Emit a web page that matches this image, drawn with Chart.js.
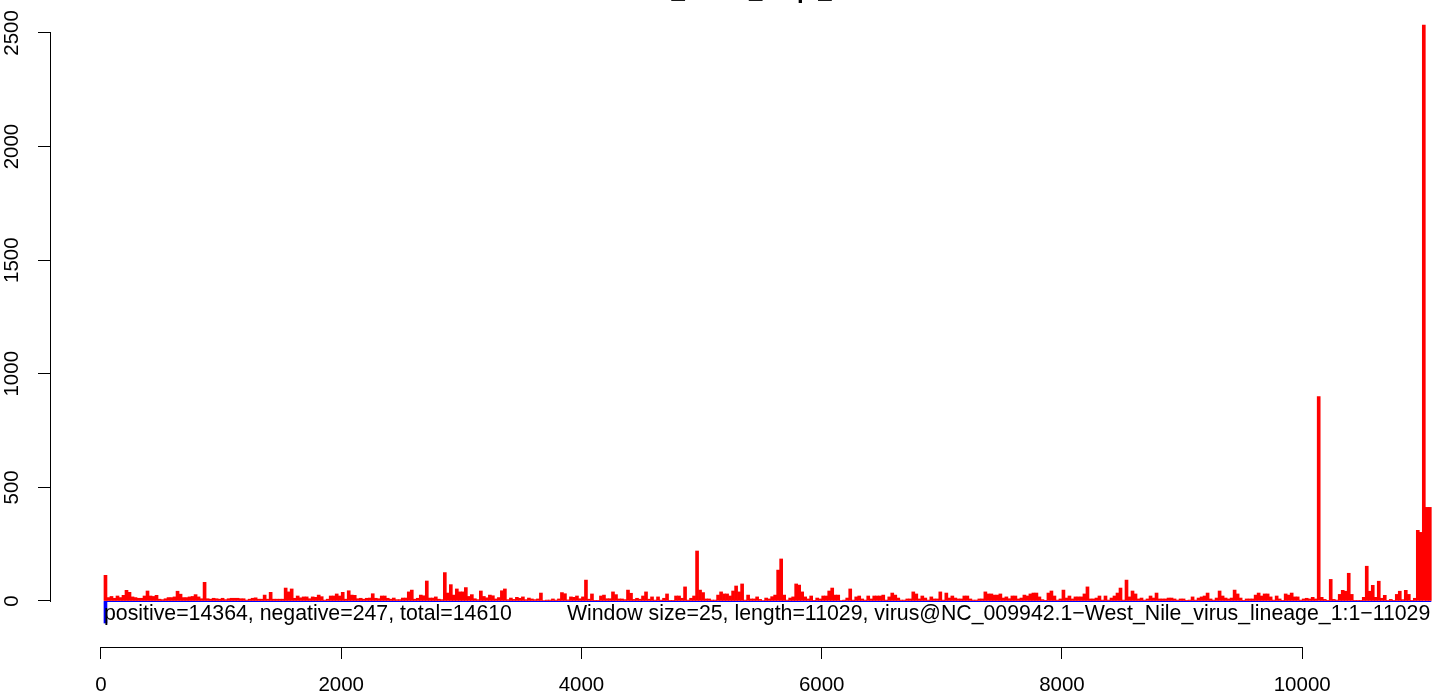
<!DOCTYPE html>
<html>
<head>
<meta charset="utf-8">
<script src="https://cdn.jsdelivr.net/npm/chart.js@4"></script>
<style>
  html, body { margin: 0; padding: 0; background: #fff; }
  canvas { display: block; }
</style>
</head>
<body>
<canvas id="myChart" width="1439" height="697"></canvas>
<script>
// windows of 25 nt, first window starts at 25
const windowSize = 25;
const firstBin = 25;

// read counts on the positive strand, one value per window
const positive = [
  113,15,20,12,22,15,25,47,38,18, 15,12,12,22,44,22,20,25,8,6, 10,15,15,18,43,30,15,15,18,20,
  28,18,10,82,10,8,12,10,8,12, 6,10,12,
  12,12,10,10,4,8,12,14,8,8, 26,8,38,8,8,8,8,57,40,53, 12,22,14,18,18,10,18,16,26,19,
  4,8,22,22,31,22,38,8,45,26, 25,10,12,8,
  12,13,32,12,10,22,22,12,8,13, 6,6,13,13,40,48,8,12,26,23, 88,13,13,18,8,6,125,35,72,26,
  53,40,40,59,20,28,10,6,44,20, 14,26,23,9,15,
  45,53,6,13,7,16,12,18,6,13, 9,6,9,35,2,4,4,9,4,9, 37,32,5,18,16,22,10,18,92,8,
  31,3,3,22,26,10,10,40,28,9, 9,6,48,34,7,
  12,8,22,40,8,18,4,18,4,12, 31,3,3,22,22,12,62,4,12,22, 220,48,37,9,9,4,4,26,40,31,
  31,22,44,66,40,75,4,26,9,9, 18,7,2,13,
  9,19,26,136,185,26,4,13,18,75, 70,40,18,9,22,3,13,9,22,22, 44,57,26,26,2,4,13,53,4,18,
  22,9,4,22,9,22,22,22,26,4, 18,35,26,13,4,
  4,9,9,40,31,9,22,13,4,18, 9,9,40,4,35,13,22,13,9,9, 22,22,9,4,4,9,9,40,31,31,
  26,26,31,13,18,10,22,22,9,13, 26,22,31,35,35,
  18,6,3,35,44,22,4,9,48,13, 22,9,18,18,18,31,62,9,9,13, 22,4,22,4,13,22,35,57,4,92,
  18,44,31,9,13,4,9,22,13,35, 9,9,9,13,
  13,9,4,9,9,3,4,18,4,13, 18,22,35,9,4,13,44,22,13,9, 13,48,31,13,3,9,9,9,26,35,
  22,31,31,18,4,22,9,3,31,26, 35,18,18,4,9,
  12,9,16,9,900,16,7,3,95,7, 4,29,47,43,122,29,3,3,3,16, 153,43,69,16,87,12,25,3,7,3,
  29,43,6,47,29,3,12,311,302,2535, 412,412
];
// negative strand: only the first window shows a visible bar
const negative = [-97];

const xTicks = [0, 2000, 4000, 6000, 8000, 10000];
const yTicks = [0, 500, 1000, 1500, 2000, 2500];

const title = "WNV_reads_mapi_hist";
const leftNote = "positive=14364, negative=247, total=14610";
const rightNote = "Window size=25, length=11029, virus@NC_009942.1\u2212West_Nile_virus_lineage_1:1\u221211029";

const fontFamily = "'Liberation Sans', Arial, Helvetica, sans-serif";
const ctx = document.getElementById('myChart');

const toPoints = arr => arr.map((v, i) => ({ x: firstBin + windowSize * i + windowSize / 2, y: v }));

// R style axes: line only between first and last tick, plus the blue zero line
const rAxes = {
    id: 'rAxes',
    afterDatasetsDraw(chart) {
        const c = chart.ctx;
        const x = chart.scales.x, y = chart.scales.y;
        c.save();
        c.fillStyle = '#0000ff';
        const x0 = x.getPixelForValue(firstBin);
        const x1 = x.getPixelForValue(firstBin + windowSize * positive.length);
        c.fillRect(x0, Math.round(y.getPixelForValue(0)), x1 - x0, 1);
        c.restore();
    },
    afterDraw(chart) {
        const c = chart.ctx;
        const x = chart.scales.x, y = chart.scales.y;
        const area = chart.chartArea;
        c.save();
        c.fillStyle = '#000';
        // y axis line
        const yTop = Math.round(y.getPixelForValue(yTicks[yTicks.length - 1]));
        const yBot = Math.round(y.getPixelForValue(yTicks[0]));
        c.fillRect(Math.round(area.left) - 1, yTop, 1, yBot - yTop + 1);
        // x axis line
        const xL = Math.round(x.getPixelForValue(xTicks[0]));
        const xR = Math.round(x.getPixelForValue(xTicks[xTicks.length - 1]));
        c.fillRect(xL, Math.round(area.bottom), xR - xL + 1, 1);

        c.font = "21.3px " + fontFamily;
        c.textBaseline = 'alphabetic';
        const base = y.getPixelForValue(0) + 19;
        c.textAlign = 'left';
        c.fillText(leftNote, x.getPixelForValue(firstBin), base);
        c.textAlign = 'right';
        c.fillText(rightNote, x.getPixelForValue(firstBin + windowSize * positive.length) - 1, base);
        // title sits mostly above the visible area
        c.font = "bold 24px " + fontFamily;
        c.textAlign = 'center';
        c.fillText(title, (area.left + area.right) / 2, -2);
        c.restore();
    }
};

let myChart = new Chart(ctx, {
    type: 'bar',
    data: {
        datasets: [{
            label: 'positive',
            data: toPoints(positive),
            backgroundColor: '#ff0000',
            borderWidth: 0,
            barPercentage: 1,
            categoryPercentage: 1,
            grouped: false
        }, {
            label: 'negative',
            data: toPoints(negative),
            backgroundColor: '#0000ff',
            borderWidth: 0,
            barPercentage: 1,
            categoryPercentage: 1,
            grouped: false
        }]
    },
    options: {
        responsive: false,
        animation: false,
        devicePixelRatio: 1,
        layout: { padding: 0, autoPadding: false },
        plugins: { legend: { display: false }, tooltip: { enabled: false } },
        scales: {
            x: {
                type: 'linear',
                offset: false,
                min: -416,
                max: 11139,
                afterBuildTicks: s => { s.ticks = xTicks.map(v => ({ value: v })); },
                afterFit: s => { s.height = 50; s.paddingLeft = 0; s.paddingRight = 0; },
                grid: { offset: false, drawOnChartArea: false, drawTicks: true, tickLength: 12, color: '#000' },
                border: { display: false },
                ticks: {
                    color: '#000', padding: 14, maxRotation: 0, autoSkip: false,
                    font: { family: fontFamily, size: 20.5 },
                    callback: v => String(v)
                }
            },
            y: {
                min: -202.5,
                max: 2645,
                afterBuildTicks: s => { s.ticks = yTicks.map(v => ({ value: v })); },
                afterFit: s => { s.width = 51; s.paddingTop = 0; s.paddingBottom = 0; },
                grid: { drawOnChartArea: false, drawTicks: true, tickLength: 13, color: '#000' },
                border: { display: false },
                ticks: {
                    color: '#000', padding: 3, minRotation: 90, maxRotation: 90,
                    crossAlign: 'center', autoSkip: false,
                    font: { family: fontFamily, size: 20.5 },
                    callback: v => String(v)
                }
            }
        }
    },
    plugins: [rAxes]
});
</script>
</body>
</html>
